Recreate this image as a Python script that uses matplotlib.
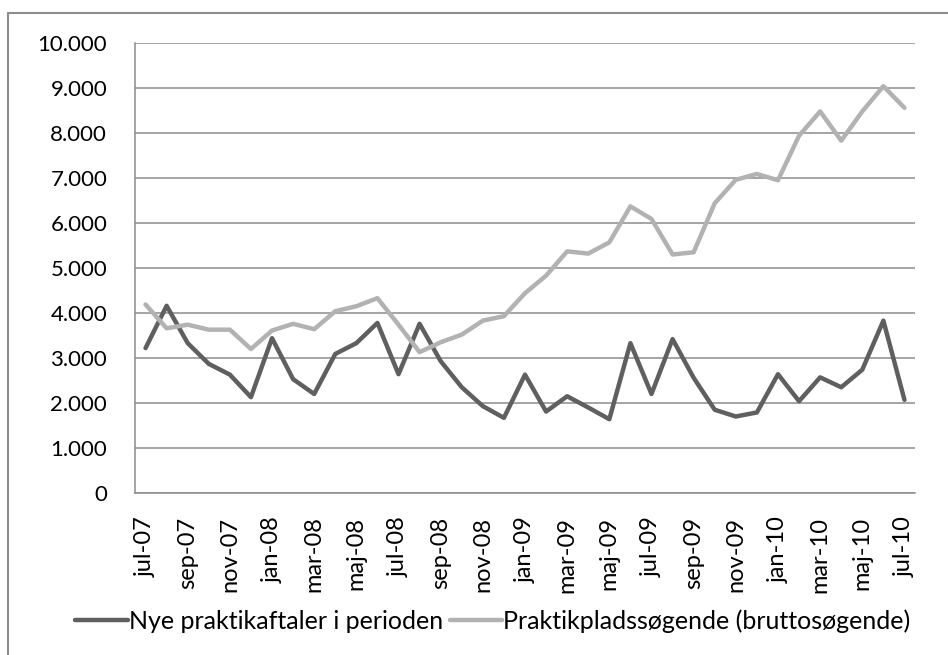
import matplotlib.pyplot as plt
from matplotlib.patches import Rectangle
from matplotlib.ticker import FuncFormatter

plt.rcParams['font.family'] = ['Lato', 'DejaVu Sans']

# Monthly periods jul-07 .. jul-10
months = ['jul', 'aug', 'sep', 'okt', 'nov', 'dec', 'jan', 'feb', 'mar', 'apr', 'maj', 'jun']
periods = []
year = 7
for i in range(37):
    m = months[i % 12]
    if m == 'jan' and i > 0:
        year += 1
    periods.append(f"{m}-{year:02d}")

nye_aftaler = [3220, 4160, 3330, 2870, 2630, 2130, 3440, 2530, 2200, 3090,
               3330, 3780, 2640, 3760, 2930, 2350, 1930, 1670, 2630, 1810,
               2150, 1900, 1640, 3330, 2200, 3420, 2560, 1850, 1700, 1790,
               2640, 2040, 2570, 2350, 2740, 3830, 2070]

soegende = [4190, 3660, 3740, 3630, 3630, 3200, 3610, 3760, 3640, 4040,
            4150, 4330, 3740, 3130, 3350, 3520, 3830, 3930, 4440, 4830,
            5370, 5320, 5570, 6370, 6090, 5300, 5350, 6440, 6960, 7090,
            6950, 7940, 8480, 7830, 8480, 9040, 8560]

yticks = list(range(0, 10001, 1000))

fig = plt.figure(figsize=(9.48, 6.55), dpi=100)
ax = fig.add_axes([135 / 948, 1 - 493 / 655, 780 / 948, 450 / 655])

x = list(range(len(periods)))
ax.plot(x, nye_aftaler, color='#5f5f5f', lw=3.2, solid_joinstyle='round',
        solid_capstyle='round', label='Nye praktikaftaler i perioden')
ax.plot(x, soegende, color='#b2b2b2', lw=3.2, solid_joinstyle='round',
        solid_capstyle='round', label='Praktikpladssøgende (bruttosøgende)')

ax.set_xlim(-0.5, len(periods) - 0.5)
ax.set_ylim(0, 10000)
ax.set_yticks(yticks)
ax.yaxis.set_major_formatter(FuncFormatter(lambda v, p: f"{int(v):,}".replace(',', '.')))
ax.set_xticks(x[::2])
ax.set_xticklabels(periods[::2], rotation=90)
ax.tick_params(axis='both', length=0, colors='black')
ax.tick_params(axis='y', pad=20, labelsize=16)
ax.tick_params(axis='x', pad=17, labelsize=17)

ax.grid(axis='y', color='#8c8c8c', lw=1.1)
ax.set_axisbelow(True)
for s in ['top', 'right']:
    ax.spines[s].set_visible(False)
for s in ['left', 'bottom']:
    ax.spines[s].set_color('#8c8c8c')
    ax.spines[s].set_linewidth(1.1)

fig.legend(loc='center', bbox_to_anchor=(0.52, 1 - 621 / 655), ncol=2, frameon=False,
           fontsize=18, handlelength=2.1, handletextpad=0.05, columnspacing=0.25,
           borderaxespad=0)

# outer frame of the chart area
fig.patches.append(Rectangle((8 / 948, -0.1), 1.2, 1.1 - 13 / 655, transform=fig.transFigure,
                             fill=False, edgecolor='#8c8c8c', lw=1.5))

fig.savefig('out.png', dpi=100)
